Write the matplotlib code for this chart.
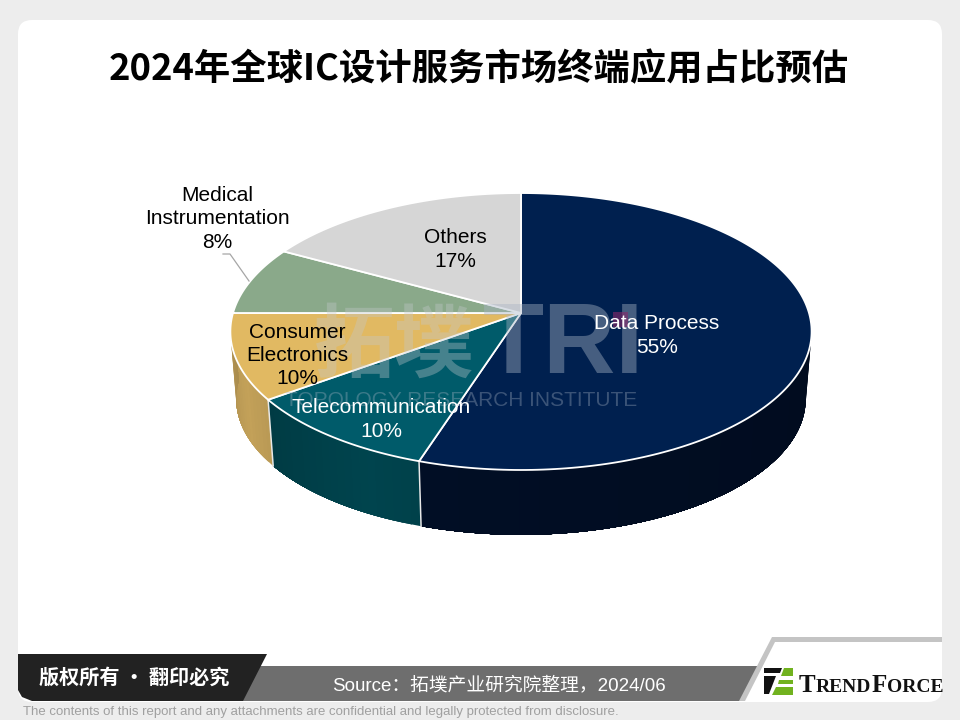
import numpy as np
import matplotlib
matplotlib.use("Agg")
import matplotlib.pyplot as plt
from matplotlib.patches import Polygon, FancyBboxPatch, Rectangle
from matplotlib.colors import to_rgb

categories = ["Data Process", "Telecommunication", "Consumer\nElectronics", "Medical\nInstrumentation", "Others"]
shares = [55, 10, 10, 8, 17]
top_colors = ["#00204F", "#005B6A", "#E1B962", "#8AA98A", "#D6D6D6"]
side_colors = ["#010E25", "#00444E", "#C3A159", "#6E8A6E", "#B0B0B0"]
label_colors = ["white", "white", "black", "black", "black"]
label_pos = [(657, 335.5), (381, 419.5), (297, 355.5), (217, 219), (455, 249.5)]

title = "2024年全球IC设计服务市场终端应用占比预估"
source = "Source：拓墣产业研究院整理，2024/06"
copyright_text = "版权所有 · 翻印必究"
disclaimer = "The contents of this report and any attachments are confidential and legally protected from disclosure."

CJK = "Noto Sans CJK SC"
SANS = "Liberation Sans"
SERIF = "Liberation Serif"

fig = plt.figure(figsize=(9.6, 7.2), dpi=100, facecolor="#EDEDED")
ax = fig.add_axes([0, 0, 1, 1])
ax.set_xlim(0, 960)
ax.set_ylim(720, 0)
ax.axis("off")

ax.add_patch(FancyBboxPatch((18, 20), 924, 682, boxstyle="round,pad=0,rounding_size=14",
                            fc="white", ec="none", zorder=1))

CX, CY, K, A, B = 521.0, 313.0, 0.1337, 136.0, 288.0
DEPTH, SHRINK = 68.0, 0.98


def project(pct, lower=False):
    th = np.radians(np.asarray(pct, float) * 3.6)
    u, v = np.sin(th), np.cos(th)
    w = 1 + K * v
    x, y = B * u / w, -A * v / w
    if lower:
        return CX + x * SHRINK, CY + y * SHRINK + DEPTH
    return CX + x, CY + y


edges = np.concatenate([[0], np.cumsum(shares)]).astype(float)

# side walls: strips overlap the next one so no seams show
for i in range(len(shares)):
    a0, a1 = edges[i], edges[i + 1]
    if a1 <= 25 or a0 >= 75:
        continue
    a0, a1 = max(a0, 25), min(a1, 75)
    grid = np.linspace(a0, a1, int((a1 - a0) * 2) + 2)
    base = np.array(to_rgb(side_colors[i]))
    for j in range(len(grid) - 1):
        t = j / (len(grid) - 1)
        shade = 1.0 - 0.18 * abs(t - 0.25) if i != 0 else 0.8 + 0.2 * t
        seg = np.linspace(grid[j], a1, 30) if i == 0 else np.linspace(grid[j], a1, 12)
        xt, yt = project(seg)
        xb, yb = project(seg, True)
        pts = np.column_stack([np.r_[xt, xb[::-1]], np.r_[yt, yb[::-1]]])
        ax.add_patch(Polygon(pts, closed=True, fc=np.clip(base * shade, 0, 1), ec="none", zorder=2))

# white seams on the front wall
for e in edges[1:3]:
    xt, yt = project(e)
    xb, yb = project(e, True)
    ax.plot([xt, xb], [yt, yb], color="#E8E8E8", lw=1.1, zorder=3)

# top face
for i in range(len(shares)):
    grid = np.linspace(edges[i], edges[i + 1], 200)
    x, y = project(grid)
    pts = np.column_stack([np.r_[CX, x], np.r_[CY, y]])
    ax.add_patch(Polygon(pts, closed=True, fc=top_colors[i], ec="white", lw=1.3, joinstyle="round", zorder=4))

# watermark
ax.text(394, 347, "拓墣", family=CJK, weight="bold", fontsize=58, color="#C4C8CC", alpha=0.36,
        ha="center", va="center", zorder=5)
ax.text(563, 347, "TRI", family=SANS, weight="bold", fontsize=72, color="#A9B4C4", alpha=0.42,
        ha="center", va="center", zorder=5)
ax.text(461, 400, "TOPOLOGY RESEARCH INSTITUTE", family=SANS, fontsize=15, color="#A9B4C4", alpha=0.35,
        ha="center", va="center", zorder=5)
ax.add_patch(Rectangle((613, 312), 15, 15, fc="#8A2A6A", alpha=0.6, ec="none", zorder=5))

# leader line
ax.plot([223, 230, 249], [254, 254, 281], color="#A6A6A6", lw=0.9, zorder=6)

# labels
for name, val, pos, col in zip(categories, shares, label_pos, label_colors):
    ax.text(pos[0], pos[1], f"{name}\n{val}%", family=SANS, fontsize=15, color=col,
            ha="center", va="center", linespacing=1.28, zorder=7)

ax.text(479, 70, title, family=CJK, weight="bold", fontsize=26.2, color="black",
        ha="center", va="center", zorder=7)

# footer
ax.add_patch(Polygon([(250, 666), (762, 666), (741, 701), (240, 701)], closed=True, fc="#6E6E6E", ec="none", zorder=6))
ax.add_patch(Polygon([(772, 637), (942, 637), (942, 642), (775, 642), (745, 701), (739, 701)], closed=True,
                     fc="#C4C4C4", ec="none", zorder=6))
ax.add_patch(Polygon([(18, 654), (267, 654), (243, 701), (32, 701), (22, 697), (18, 690)], closed=True,
                     fc="#222222", ec="none", zorder=7))
ax.text(134, 677, copyright_text, family=CJK, weight="bold", fontsize=14.5, color="white",
        ha="center", va="center", zorder=8)
ax.text(499, 685, source, family=[SANS, CJK], fontsize=13.5, color="white", ha="center", va="center", zorder=8)
ax.text(23, 712, disclaimer, family=SANS, fontsize=9.55, color="#A0A0A0",
        ha="left", va="center", zorder=8)

# logo
ax.add_patch(Polygon([(764, 668), (782, 668), (780, 673), (764, 673)], closed=True, fc="#111111", ec="none", zorder=8))
ax.add_patch(Polygon([(764, 676), (776, 676), (769, 694), (764, 694)], closed=True, fc="#111111", ec="none", zorder=8))
ax.add_patch(Polygon([(784, 668), (793, 668), (793, 676), (781, 676)], closed=True, fc="#71B21F", ec="none", zorder=8))
ax.add_patch(Polygon([(779, 680), (793, 680), (793, 684), (778, 684)], closed=True, fc="#71B21F", ec="none", zorder=8))
ax.add_patch(Polygon([(776, 687), (793, 687), (793, 695), (772, 695)], closed=True, fc="#71B21F", ec="none", zorder=8))

fig.canvas.draw()
rend = fig.canvas.get_renderer()
x = 799.0
for s, size in [("T", 18), ("REND", 14), ("F", 18), ("ORCE", 14)]:
    t = ax.text(x, 692, s, family=SERIF, weight="bold", fontsize=size, color="#111111",
                ha="left", va="baseline", zorder=8)
    bb = t.get_window_extent(rend)
    x += bb.width + 0.3

fig.savefig("out.png", dpi=100, facecolor=fig.get_facecolor())
